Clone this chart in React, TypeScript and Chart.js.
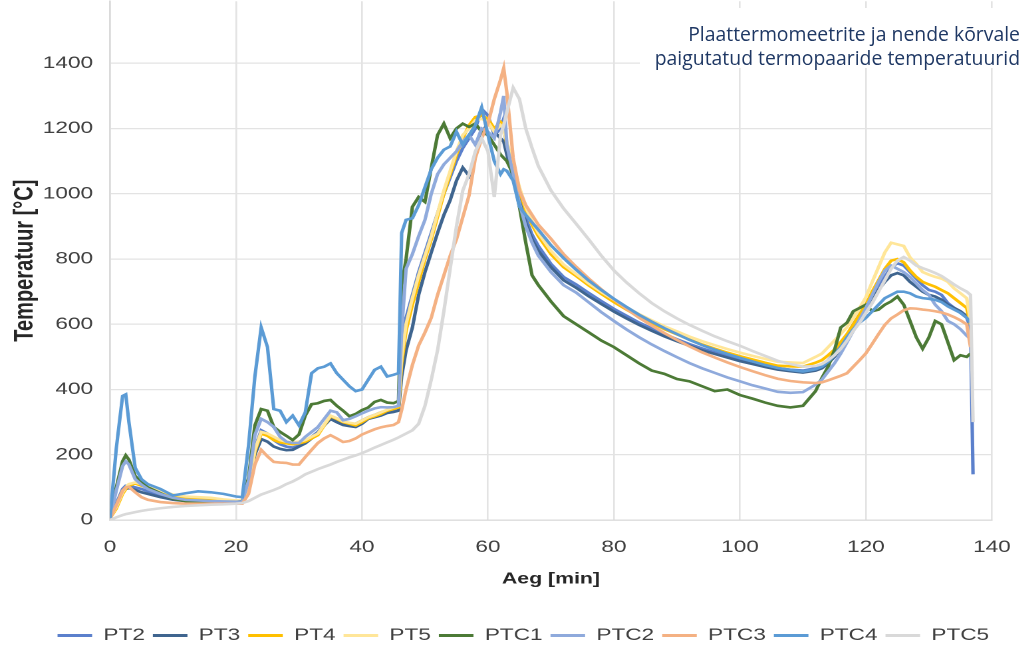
import React, { useEffect, useRef } from "react";
import { Chart, registerables } from "chart.js";

Chart.register(...registerables);

// Time axis (minutes), shared by all series
const TIME_MIN = [
  0, 1, 2, 2.5, 3, 4, 5, 6,
  8, 10, 12, 14, 16, 18, 20,
  21, 22, 23, 24, 25, 26, 27, 28, 29, 30,
  31, 32, 33, 34, 35, 36, 37, 38, 39, 40,
  41, 42, 43, 44, 45,
  45.8, 46.3, 47, 48, 49, 50,
  51, 52, 53, 54, 55, 56, 57, 58, 59, 60,
  61, 62, 62.5, 63, 64, 65, 66, 67, 68,
  70, 72, 74, 76, 78, 80, 82, 84, 86, 88,
  90, 92, 94, 96, 98, 100, 102, 104, 106, 108,
  110, 112, 113, 114, 115, 116, 117, 118, 119,
  120, 121, 122, 123, 124, 125, 126, 127, 128, 129,
  130, 131, 132, 133, 134, 135, 136, 136.6, 137,
];

const PT2 = [
  5, 50, 95, 105, 105, 100, 95, 88,
  75, 65, 60, 58, 57, 56, 55,
  56, 100, 220, 275, 265, 245, 232, 225, 222, 228,
  240, 255, 270, 290, 310, 305, 295, 292, 295, 305,
  315, 322, 330, 335, 338,
  345, 520, 620, 690, 760, 820,
  880, 940, 1000, 1050, 1100, 1140, 1170, 1200, 1260, 1240,
  1180, 1200, 1230, 1130, 1060, 990, 925, 875, 840,
  785, 745, 722, 696, 671, 647, 626, 605, 587, 570,
  554, 539, 526, 514, 502, 492, 482, 473, 465, 461,
  458, 465, 472, 490, 510, 540, 565, 600, 630,
  660, 690, 715, 745, 775, 787, 780, 760, 740, 720,
  705, 700, 690, 665, 650, 635, 620, 590, 140,
];

const PT3 = [
  5, 40, 85, 95, 98, 92, 85, 80,
  70, 62, 58, 56, 55, 55, 54,
  55, 90, 200, 248, 240, 225, 218, 214, 215, 225,
  235, 250, 266, 290, 310, 300, 291, 288, 285, 295,
  310, 315, 320, 328, 331,
  335, 440, 520, 590, 690, 760,
  820, 880, 935, 980, 1040, 1080, 1055, 1120, 1180, 1220,
  1190, 1170, 1160, 1120, 1050, 975, 910, 860, 825,
  775, 735, 712, 686, 662, 639, 618, 598, 580, 563,
  548, 534, 520, 509, 498, 487, 478, 469, 461, 456,
  452, 458, 465, 480, 500, 525, 550, 585, 620,
  650, 680, 705, 730, 750, 757, 750, 730, 715, 700,
  690, 685, 675, 660, 650, 640, 625, 605, null,
];

const PT4 = [
  5, 35, 80, 95, 105, 112, 105, 98,
  88, 75, 68, 64, 62, 60, 58,
  58, 95, 210, 265, 258, 245, 238, 235, 232, 235,
  240, 250, 260, 290, 318, 310, 300, 295, 290, 300,
  312, 318, 325, 335, 340,
  345, 480, 580, 660, 730, 800,
  860, 930, 1000, 1060, 1120, 1170, 1210, 1235, 1240, 1230,
  1200, 1220, 1210, 1150, 1080, 1010, 950, 905, 870,
  815, 775, 748, 719, 693, 668, 645, 623, 604, 585,
  569, 553, 538, 525, 513, 502, 492, 482, 473, 471,
  470, 482, 490, 505, 522, 545, 570, 600, 630,
  660, 700, 735, 770, 795, 800, 790, 765, 745, 730,
  722, 715, 705, 695, 680, 665, 650, 600, null,
];

const PT5 = [
  5, 40, 85, 100, 110, 115, 110, 100,
  90, 78, 72, 70, 68, 63, 60,
  60, 100, 215, 270, 265, 255, 245, 240, 238, 240,
  245, 255, 265, 292, 320, 312, 302, 298, 295, 305,
  315, 322, 330, 338, 345,
  350, 500, 600, 680, 750, 810,
  870, 940, 1010, 1070, 1130, 1180, 1200, 1225, 1230, 1220,
  1190, 1210, 1200, 1160, 1090, 1020, 960, 915, 880,
  825, 783, 754, 725, 699, 675, 652, 631, 612, 594,
  578, 562, 548, 536, 524, 513, 503, 494, 485, 483,
  481, 500, 510, 530, 550, 570, 591, 620, 650,
  683, 730, 775, 820, 850, 845, 840, 805, 785, 760,
  752, 745, 740, 730, 710, 695, 680, 610, null,
];

const PTC1 = [
  5, 100, 180, 198, 185, 135, 115, 100,
  82, 65, 58, 55, 55, 55, 55,
  58, 130, 290, 340, 335, 285, 270, 258, 245, 262,
  320, 355, 358, 365, 368, 350, 335, 318, 325, 337,
  345, 362, 368, 360, 358,
  365, 720, 800, 960, 990, 975,
  1080, 1180, 1215, 1170, 1200, 1215, 1205, 1215, 1190, 1180,
  1150, 1120, 1110, 1100, 1060, 960, 850, 750, 720,
  670, 625, 600, 575, 550, 530, 505, 480, 458, 448,
  432, 425, 410, 395, 400, 383, 372, 360, 350, 345,
  350, 395, 435, 470, 520, 590, 605, 640, 650,
  660, 640, 645, 660, 670, 685, 660, 610, 560, 525,
  560, 610, 600, 545, 490, 505, 500, 510, null,
];

const PTC2 = [
  5, 90, 165, 180, 170, 125, 108, 95,
  80, 68, 62, 60, 58, 57, 56,
  57, 120, 260, 310, 300, 285, 255, 240, 236, 236,
  255, 270, 285, 310, 335, 330, 306, 310, 318, 327,
  335, 342, 346, 345, 346,
  350, 580, 770, 815, 870, 920,
  1000, 1060, 1090, 1110, 1130, 1160, 1180, 1150, 1200, 1190,
  1170, 1250, 1300, 1150, 1060, 970, 900, 850, 810,
  760, 720, 697, 667, 637, 610, 584, 560, 538, 518,
  499, 481, 465, 451, 437, 425, 413, 403, 393, 390,
  392, 415, 430, 455, 480, 510, 545, 580, 615,
  650, 690, 730, 765, 780, 770, 760, 745, 725, 705,
  690, 660, 640, 610, 600, 585, 565, 555, null,
];

const PTC3 = [
  3, 45, 90, 100, 102, 85, 70, 62,
  55, 52, 50, 50, 50, 50, 50,
  50, 80, 170, 215, 195, 178, 176, 175, 170, 170,
  193, 215, 236, 250, 260, 250, 239, 242, 250, 262,
  270, 278, 284, 288, 291,
  300, 337, 400, 475, 535, 575,
  620, 690, 750, 810, 860, 928, 995, 1110, 1170, 1215,
  1290, 1350, 1385, 1310, 1110, 1010, 965, 935, 905,
  862, 815, 776, 740, 707, 676, 647, 620, 596, 573,
  552, 532, 514, 498, 483, 469, 456, 444, 433, 426,
  422, 420, 422, 428, 435, 442, 450, 470, 490,
  511, 540, 570, 598, 618, 630, 643, 649, 648, 645,
  643, 640, 636, 630, 622, 612, 600, 530, null,
];

const PTC4 = [
  5, 220, 380, 385, 300, 160, 125, 110,
  95, 75, 82, 88, 85, 80, 72,
  70, 230, 440, 590, 530, 340, 335, 300, 320, 290,
  330, 450, 465, 470, 480, 450, 430, 410, 395, 400,
  430, 460, 470, 440, 445,
  450, 880, 920, 925, 965, 1020,
  1075, 1110, 1135, 1145, 1190, 1150, 1180, 1210, 1265, 1180,
  1100, 1060, 1075, 1070, 1040, 960, 935, 912, 890,
  842, 803, 767, 734, 705, 678, 653, 629, 608, 588,
  570, 552, 536, 522, 509, 497, 486, 475, 466, 460,
  455, 462, 470, 485, 505, 530, 560, 585, 605,
  620, 640, 660, 680, 690, 700, 700, 695, 685, 680,
  678, 675, 668, 655, 645, 635, 620, 605, null,
];

const PTC5 = [
  0, 8, 15, 18, 20, 24, 28, 31,
  36, 40, 43, 45, 47, 48, 50,
  52, 58, 68, 78, 85, 92, 100, 110, 118, 128,
  140, 148, 156, 163, 170, 178, 185, 192, 198, 205,
  213, 222, 230, 238, 246,
  253, 258, 265, 275, 295, 350,
  430, 520, 640, 770, 900, 1010, 1060, 1130, 1170, 1130,
  990, 1180, 1210, 1250, 1325, 1290, 1200, 1140, 1085,
  1010, 955, 908, 860, 810, 765, 728, 695, 665, 640,
  618, 598, 580, 563, 548, 534, 518, 503, 488, 478,
  470, 472, 478, 490, 505, 525, 550, 580, 605,
  635, 665, 700, 735, 770, 795, 806, 795, 780, 772,
  765, 757, 748, 735, 722, 710, 700, 690, 300,
];

const SERIES_NAMES = ["PT2", "PT3", "PT4", "PT5", "PTC1", "PTC2", "PTC3", "PTC4", "PTC5"];
const SERIES_VALUES = [PT2, PT3, PT4, PT5, PTC1, PTC2, PTC3, PTC4, PTC5];
const SERIES_COLORS = [
  "#5B80CC", "#3F658F", "#FFC000", "#FFE699", "#4C7A36",
  "#8FAADC", "#F4B183", "#5B9BD5", "#D9D9D9",
];

const Y_TICKS = [0, 200, 400, 600, 800, 1000, 1200, 1400];
const TITLE_LINES = ["Plaattermomeetrite ja nende kõrvale", "paigutatud termopaaride temperatuurid"];

const SX = 1.33;
const CW = 773;
const CH = 654;
const PAD_L = 14;
const FONT = "'Liberation Sans', Arial, sans-serif";

export default function App() {
  const ref = useRef<HTMLCanvasElement | null>(null);

  useEffect(() => {
    if (!ref.current) return;
    const datasets = SERIES_NAMES.map((name, i) => ({
      label: name,
      data: TIME_MIN.map((t, j) => ({ x: t, y: SERIES_VALUES[i][j] })),
      borderColor: SERIES_COLORS[i],
      backgroundColor: SERIES_COLORS[i],
      borderWidth: 2.6,
      pointRadius: 0,
      pointHoverRadius: 0,
      tension: 0,
      order: SERIES_NAMES.length - i,
    }));

    const chart = new Chart(ref.current, {
      type: "line",
      data: { datasets },
      options: {
        animation: false,
        responsive: true,
        maintainAspectRatio: false,
        devicePixelRatio: 2,
        layout: { padding: { left: PAD_L, right: 0, top: 0, bottom: 0 } },
        plugins: {
          tooltip: { enabled: false },
          legend: {
            position: "bottom",
            labels: {
              boxWidth: 26,
              boxHeight: 3,
              padding: 6,
              color: "#404040",
              font: { family: FONT, size: 17 },
              generateLabels: (c: any) =>
                Chart.defaults.plugins.legend.labels
                  .generateLabels(c)
                  .map((l: any) => ({ ...l, lineWidth: 0, fillStyle: l.strokeStyle }))
                  .sort((a: any, b: any) => a.datasetIndex - b.datasetIndex),
            },
          },
        },
        scales: {
          x: {
            type: "linear",
            min: 0,
            max: 140,
            ticks: {
              stepSize: 20,
              color: "#404040",
              padding: 17,
              font: { family: FONT, size: 17 },
              callback: (v: any) => String(v),
            },
            grid: { color: "#E3E3E3", lineWidth: 1.3, drawTicks: false },
            border: { color: "#DADADA", width: 1.3 },
            title: {
              display: true,
              text: "Aeg [min]",
              color: "#262626",
              font: { family: FONT, size: 16, weight: "bold" },
              padding: { top: 0, bottom: 32.4 },
            },
            afterFit: (s: any) => {
              s.height = 101;
              s.paddingLeft = 0;
              s.paddingRight = 27.2;
            },
          },
          y: {
            type: "linear",
            min: 0,
            max: 1590,
            ticks: {
              stepSize: 200,
              color: "#404040",
              padding: 12.7,
              font: { family: FONT, size: 17 },
              callback: (v: any) => String(v),
            },
            afterBuildTicks: (s: any) => {
              s.ticks = Y_TICKS.map((v) => ({ value: v }));
            },
            grid: { color: "#E3E3E3", lineWidth: 1.3, drawTicks: false },
            border: { color: "#DADADA", width: 1.3 },
            title: {
              display: true,
              text: "Temperatuur [°C]",
              color: "#262626",
              font: { family: FONT, size: 20, weight: "bold" },
              padding: { top: 7 - PAD_L, bottom: 0 },
            },
            afterFit: (s: any) => {
              s.width = 82.7 - PAD_L;
              s.paddingTop = 0;
              s.paddingBottom = 0;
            },
          },
        },
      },
    });
    return () => chart.destroy();
  }, []);

  return (
    <div>
      <div
        style={{
          position: "fixed",
          left: 0,
          top: 0,
          width: CW + "px",
          height: CH + "px",
          transform: `scaleX(${SX})`,
          transformOrigin: "0 0",
        }}
      >
        <canvas ref={ref} />
      </div>
      <div
        style={{
          position: "fixed",
          left: "640px",
          top: "8px",
          width: "380px",
          height: "60px",
          background: "#ffffff",
          color: "#1F3864",
          fontFamily: "'Open Sans', 'Noto Sans', sans-serif",
          fontSize: "19.4px",
          lineHeight: "24px",
          textAlign: "right",
          paddingTop: "14px",
          boxSizing: "border-box",
          whiteSpace: "nowrap",
        }}
      >
        {TITLE_LINES.map((t) => (
          <div key={t}>{t}</div>
        ))}
      </div>
    </div>
  );
}
